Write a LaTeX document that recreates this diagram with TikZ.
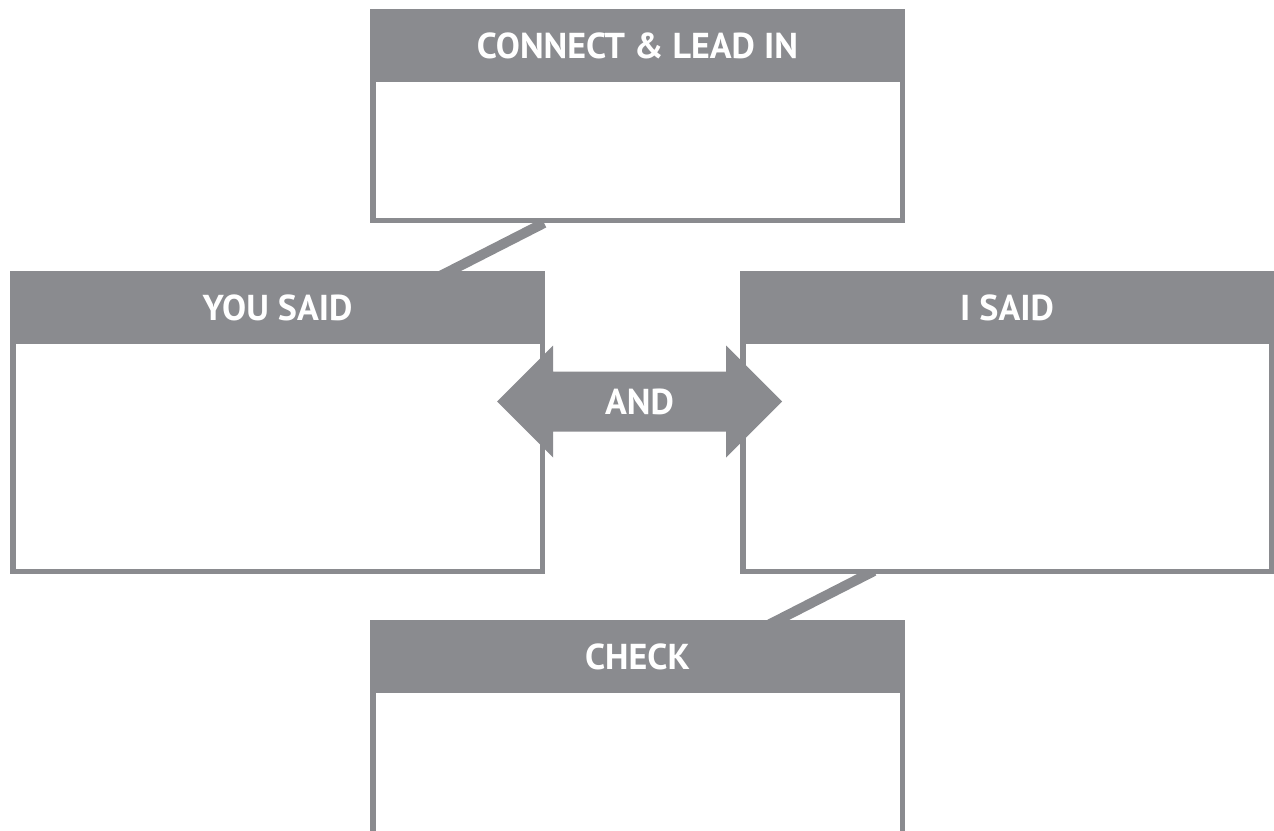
\documentclass[tikz,border=0pt]{standalone}
\usepackage{fontspec}
\setmainfont{PT Sans}
\definecolor{boxgray}{RGB}{138,139,143}
\begin{document}
\begin{tikzpicture}[x=1pt,y=-1pt,
  every node/.style={inner sep=0pt, outer sep=0pt},
  panel/.style={rectangle, draw=boxgray, fill=white, line width=5.5pt},
  header/.style={rectangle, fill=boxgray, text=white,
    font=\fontsize{36}{40}\selectfont\bfseries, text height=25.2pt, text depth=0pt},
  link/.style={draw=boxgray, line width=10pt, line cap=butt}]
\clip (0,0) rectangle (1274,830);

% connector end points (upper end on a box edge, lower end hidden under a header)
\coordinate (l1a) at (544,223);
\coordinate (l1b) at (430.4,281);
\coordinate (l2a) at (874,571);
\coordinate (l2b) at (758.4,630);
\draw[link] (l1a) -- (l1b);
\draw[link] (l2a) -- (l2b);

% panel bodies
\node[panel, minimum width=529.5pt, minimum height=208.5pt] (lead)  at (637.5,116) {};
\node[panel, minimum width=529.5pt, minimum height=297.5pt] (you)   at (277.5,422.5) {};
\node[panel, minimum width=528.5pt, minimum height=297.5pt] (isaid) at (1007,422.5) {};
\node[panel, minimum width=529.5pt, minimum height=224.5pt] (check) at (637.5,735) {};

% panel headers
\node[header, minimum width=535pt, minimum height=73pt] (leadh)  at (637.5,45.5)  {CONNECT \& LEAD IN};
\node[header, minimum width=535pt, minimum height=73pt] (youh)   at (277.5,307.5) {YOU SAID};
\node[header, minimum width=534pt, minimum height=73pt] (isaidh) at (1007,307.5)  {I SAID};
\node[header, minimum width=535pt, minimum height=73pt] (checkh) at (637.5,656.5) {CHECK};

% double arrow between the two middle panels
\fill[boxgray] (497,401.5) -- (553,345.5) -- (553,371.5) -- (726,371.5) -- (726,345.5)
  -- (782,401.5) -- (726,457.5) -- (726,431.5) -- (553,431.5) -- (553,457.5) -- cycle;
\node[text=white, font=\fontsize{36}{40}\selectfont\bfseries, text height=25.2pt, text depth=0pt]
  (and) at (639.5,401.5) {AND};
\end{tikzpicture}
\end{document}
